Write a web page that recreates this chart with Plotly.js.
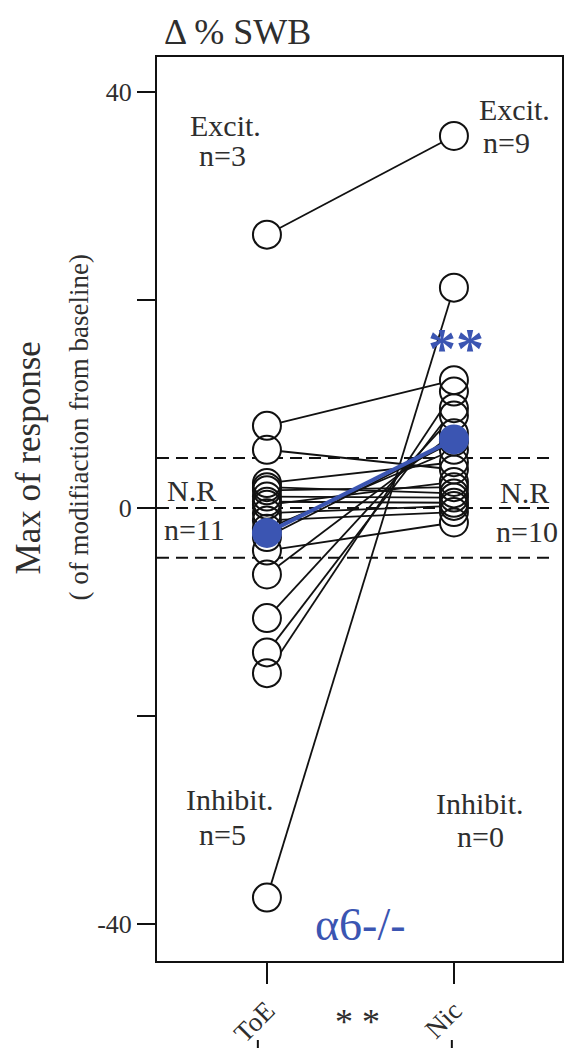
<!DOCTYPE html>
<html>
<head>
<meta charset="utf-8">
<script src="https://cdn.plot.ly/plotly-3.0.1.min.js"></script>
<style>html,body{margin:0;padding:0;background:#fff;}#chart{width:565px;height:1048px;}</style>
</head>
<body>
<div id="chart"></div>
<script>
// ---- data ----
const categories = ['ToE', 'Nic'];
const catPos = [1, 2];
// paired responses (same index = same recording)
const toeValues = [26.3, 7.9, 5.6, 2.4, 2.0, 1.7, 1.1, 0.6, 0.3, -0.5, -1.2, -2.0, -2.8, -4.1, -6.4, -10.6, -13.9, -15.9, -37.5];
const nicValues = [35.8, 12.3, 3.7, 4.4, 1.4, 2.0, 1.0, 0.5, 2.5, 0.2, -0.4, 5.6, 6.4, -1.4, 7.2, 8.9, 9.6, 11.2, 21.2];
const meanValues = [-2.4, 6.6];
const thresholds = [4.8, 0, -4.8];
const yTickVals = [-40, -20, 0, 20, 40];
const yTickText = ['-40', '', '0', '', '40'];

const SERIF = '"Liberation Serif", "DejaVu Serif", serif';
const BLUE = '#3b55b2';
const TXT = '#2e2e2e';

// connecting lines
const lx = [], ly = [];
for (let i = 0; i < toeValues.length; i++) {
  lx.push(catPos[0], catPos[1], null);
  ly.push(toeValues[i], nicValues[i], null);
}
const allX = [], allY = [];
for (let i = 0; i < toeValues.length; i++) { allX.push(catPos[0]); allY.push(toeValues[i]); }
for (let i = 0; i < nicValues.length; i++) { allX.push(catPos[1]); allY.push(nicValues[i]); }

const traces = [
  {x: lx, y: ly, mode: 'lines', line: {color: '#111', width: 1.8}, hoverinfo: 'skip', showlegend: false},
  {x: allX, y: allY, mode: 'markers', marker: {symbol: 'circle', size: 28, color: '#fff', line: {width: 0}}, hoverinfo: 'skip', showlegend: false},
  {x: allX, y: allY, mode: 'markers', marker: {symbol: 'circle-open', size: 28, color: '#111', line: {width: 2}}, showlegend: false},
  {x: catPos, y: meanValues, mode: 'lines+markers', line: {color: BLUE, width: 4}, marker: {size: 30, color: BLUE}, showlegend: false}
];

const shapes = thresholds.map(v => ({
  type: 'line', xref: 'paper', yref: 'y', x0: 0, x1: 0.983, y0: v, y1: v,
  line: {color: '#111', width: 2, dash: '12px,7px'}, layer: 'below'
}));
// significance bracket at the bottom (cut by the image edge)
shapes.push({type: 'line', xref: 'paper', yref: 'paper', x0: 0.249, x1: 0.249, y0: -0.0874, y1: -0.1, line: {color: '#111', width: 2}});
shapes.push({type: 'line', xref: 'paper', yref: 'paper', x0: 0.728, x1: 0.728, y0: -0.0874, y1: -0.1, line: {color: '#111', width: 2}});

function ann(text, x, y, size, color, extra) {
  return Object.assign({text: text, x: x, y: y, xref: 'x', yref: 'y', showarrow: false,
    font: {family: SERIF, size: size, color: color || TXT}, xanchor: 'center', yanchor: 'middle'}, extra || {});
}

const annotations = [
  ann('Excit.', 0.78, 36.8, 30),
  ann('n=3', 0.76, 33.9, 30),
  ann('Excit.', 2.326, 38.3, 30),
  ann('n=9', 2.283, 35.2, 30),
  ann('N.R', 0.599, 1.7, 30),
  ann('n=11', 0.615, -2.1, 30),
  ann('N.R', 2.38, 1.5, 30),
  ann('n=10', 2.39, -2.3, 30),
  ann('Inhibit.', 0.80, -28.1, 30),
  ann('n=5', 0.76, -31.4, 30),
  ann('Inhibit.', 2.14, -28.4, 30),
  ann('n=0', 2.14, -31.6, 30),
  ann('α6-/-', 1.50, -40.1, 46, BLUE),
  ann('<b>**</b>', 2.01, 15.3, 56, BLUE),
  {text: 'Δ % SWB', xref: 'paper', yref: 'paper', x: 0.198, y: 1.0277, showarrow: false,
   font: {family: SERIF, size: 36, color: TXT}, xanchor: 'center', yanchor: 'middle'},
  {text: 'Max of response', xref: 'paper', yref: 'paper', x: -0.3185, y: 0.556, textangle: -90, showarrow: false,
   font: {family: SERIF, size: 35, color: TXT}, xanchor: 'center', yanchor: 'middle'},
  {text: '( of modifiaction from baseline)', xref: 'paper', yref: 'paper', x: -0.193, y: 0.590, textangle: -90, showarrow: false,
   font: {family: SERIF, size: 27, color: TXT}, xanchor: 'center', yanchor: 'middle'},
  {text: '* *', xref: 'paper', yref: 'paper', x: 0.494, y: -0.068, showarrow: false,
   font: {family: SERIF, size: 36, color: TXT}, xanchor: 'center', yanchor: 'middle'}
];

const layout = {
  width: 565, height: 1048,
  margin: {l: 157, r: 3, t: 57, b: 87, pad: 0},
  paper_bgcolor: '#fff', plot_bgcolor: '#fff',
  font: {family: SERIF},
  showlegend: false,
  xaxis: {
    range: [0.412, 2.578], tickvals: catPos, ticktext: categories, tickangle: -45,
    ticks: 'outside', ticklen: 21, tickwidth: 2, tickcolor: '#111',
    showline: true, mirror: true, linewidth: 2, linecolor: '#111',
    showgrid: false, zeroline: false,
    tickfont: {family: SERIF, size: 27, color: TXT}
  },
  yaxis: {
    range: [-43.6, 43.4], tickvals: yTickVals, ticktext: yTickText,
    ticks: 'outside', ticklen: 18, tickwidth: 2, tickcolor: '#111',
    showline: true, mirror: true, linewidth: 2, linecolor: '#111',
    showgrid: false, zeroline: false,
    tickfont: {family: SERIF, size: 26, color: TXT}
  },
  shapes: shapes,
  annotations: annotations
};

Plotly.newPlot('chart', traces, layout, {staticPlot: true, displayModeBar: false});
</script>
</body>
</html>
